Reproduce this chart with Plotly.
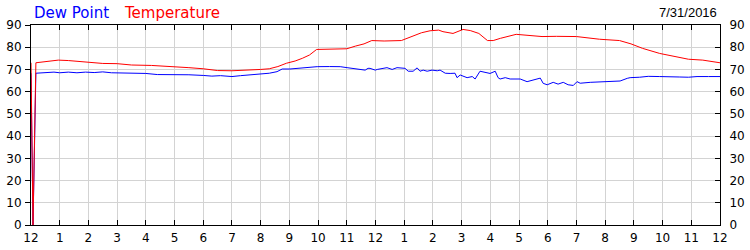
import plotly.graph_objects as go

# ---- data ----
temp_hours = [0.00, 0.07, 0.17, 0.5, 0.95, 1.3, 2.0, 2.5, 3.0, 3.5, 4.2, 5.0, 5.5, 6.0, 6.5, 7.0,
              7.6, 8.0, 8.3, 8.6, 8.9, 9.2, 9.45, 9.7, 9.95, 10.5, 11.0, 11.3, 11.6, 11.87, 12.3,
              12.9, 13.2, 13.4, 13.6, 13.9, 14.2, 14.35, 14.7, 15.05, 15.3, 15.6, 15.9, 16.1,
              16.35, 16.9, 17.4, 17.8, 18.3, 19.0, 19.8, 20.5, 20.9, 21.3, 21.9, 22.4, 22.9,
              23.4, 24.0]
temp_values = [73.0, 0.0, 73.0, 73.5, 74.2, 74.0, 73.2, 72.7, 72.6, 72.0, 71.8, 71.3, 70.8, 70.3,
               69.5, 69.4, 69.6, 70.0, 70.3, 71.3, 72.8, 73.8, 75.0, 76.5, 79.0, 79.0, 79.3,
               80.5, 81.5, 83.0, 82.8, 83.0, 84.5, 85.5, 86.5, 87.4, 87.7, 87.0, 86.2, 88.0,
               87.5, 86.2, 83.0, 83.0, 84.0, 85.8, 85.3, 84.8, 84.9, 84.8, 83.6, 83.0, 81.5,
               79.5, 77.2, 76.0, 74.6, 74.2, 73.0]

dew_hours = [0.00, 0.07, 0.17, 0.5, 0.8, 1.0, 1.3, 1.6, 1.9, 2.2, 2.5, 2.8, 3.2, 3.6, 4.0, 4.4,
             5.0, 5.5, 6.0, 6.3, 6.6, 7.0, 7.3, 7.63, 7.98, 8.3, 8.57, 8.75, 9.02, 9.30, 9.65,
             9.97, 10.4, 10.77, 11.01, 11.22, 11.45, 11.64, 11.74, 11.81, 11.99, 12.06, 12.40,
             12.58, 12.75, 13.03, 13.14, 13.31, 13.45, 13.55, 13.66, 13.80, 13.97, 14.15, 14.25,
             14.43, 14.60, 14.77, 14.84, 14.95, 15.19, 15.37, 15.47, 15.64, 15.99, 16.17, 16.27,
             16.34, 16.52, 16.69, 17.04, 17.28, 17.74, 17.84, 17.98, 18.19, 18.36, 18.54, 18.71,
             18.89, 19.02, 19.13, 19.48, 19.83, 20.28, 20.52, 20.77, 20.87, 21.2, 21.5, 21.9,
             22.3, 22.6, 22.9, 23.2, 23.6, 24.0]
dew_values = [68.3, 0.0, 68.3, 68.4, 68.8, 68.5, 68.8, 68.5, 68.8, 68.6, 68.9, 68.5, 68.5, 68.3,
              68.2, 67.7, 67.7, 67.6, 67.3, 67.0, 67.2, 66.8, 67.2, 67.5, 68.1, 68.3, 69.0, 70.2,
              70.2, 70.5, 70.8, 71.25, 71.3, 71.25, 70.8, 70.5, 70.2, 69.7, 70.5, 70.5, 69.7,
              70.0, 70.8, 70.0, 70.8, 70.5, 69.2, 69.2, 70.7, 69.2, 69.7, 69.2, 69.7, 69.4, 69.7,
              68.3, 68.2, 68.3, 66.3, 67.5, 66.3, 66.8, 65.7, 69.2, 68.2, 69.2, 66.3, 65.7, 66.3,
              65.7, 65.7, 64.5, 66.1, 63.75, 63.1, 64.2, 63.4, 64.2, 63.1, 62.8, 64.5, 63.8, 64.2,
              64.5, 64.8, 64.8, 66.0, 66.3, 66.5, 66.9, 66.8, 66.5, 66.6, 66.5, 66.8, 66.8, 66.8]

tick_hours = list(range(0, 25))
tick_labels = ["12"] + [str(i) for i in range(1, 12)] + ["12"] + [str(i) for i in range(1, 12)] + ["12"]
date_label = "7/31/2016"

TICKFONT = dict(family="DejaVu Sans", size=12, color="#000000")
GRID = "#d3d3d3"

fig = go.Figure()
fig.add_trace(go.Scatter(x=dew_hours, y=dew_values, mode="lines",
                         line=dict(color="#0000ff", width=1), name="Dew Point",
                         xaxis="x", yaxis="y"))
fig.add_trace(go.Scatter(x=temp_hours, y=temp_values, mode="lines",
                         line=dict(color="#ff0000", width=1), name="Temperature",
                         xaxis="x2", yaxis="y2"))

fig.update_layout(
    width=750, height=250,
    margin=dict(l=31, r=30, t=25, b=25, autoexpand=False),
    paper_bgcolor="white", plot_bgcolor="white",
    showlegend=False,
    xaxis=dict(range=[0, 24], tickvals=tick_hours, ticktext=tick_labels,
               ticks="inside", ticklen=5, tickcolor="black", tickwidth=1,
               showline=True, linecolor="black", linewidth=1,
               showgrid=True, gridcolor=GRID, gridwidth=1, zeroline=False,
               tickfont=TICKFONT, ticklabelstandoff=2, automargin=False),
    xaxis2=dict(range=[0, 24], tickvals=tick_hours, overlaying="x", side="top",
                anchor="y", ticks="inside", ticklen=5, tickcolor="black",
                showline=True, linecolor="black", linewidth=1,
                showgrid=False, zeroline=False, showticklabels=False, automargin=False),
    yaxis=dict(range=[0, 90], dtick=10, tick0=0, ticks="outside", ticklen=5,
               tickcolor="black", showline=True, linecolor="black", linewidth=1,
               showgrid=True, gridcolor=GRID, gridwidth=1, zeroline=False,
               tickfont=TICKFONT, ticklabelstandoff=1, automargin=False),
    yaxis2=dict(range=[0, 90], dtick=10, tick0=0, overlaying="y", side="right",
                anchor="x", ticks="inside", ticklen=5, tickcolor="black",
                showline=True, linecolor="black", linewidth=1,
                showgrid=False, zeroline=False, tickfont=TICKFONT,
                ticklabelstandoff=6, automargin=False),
)

pw = 750 - 31 - 30
ph = 250 - 25 - 25
def px_to_paper_x(px):
    return (px - 31) / pw
def px_to_paper_y(py):
    return (225 - py) / ph

fig.add_annotation(text="Dew Point", x=px_to_paper_x(32), y=px_to_paper_y(12.5),
                   xref="paper", yref="paper", xanchor="left", yanchor="middle",
                   showarrow=False, font=dict(family="DejaVu Sans", size=15, color="#0000ff"))
fig.add_annotation(text="Temperature", x=px_to_paper_x(122), y=px_to_paper_y(12.5),
                   xref="paper", yref="paper", xanchor="left", yanchor="middle",
                   showarrow=False, font=dict(family="DejaVu Sans", size=15, color="#ff0000"))
fig.add_annotation(text=date_label, x=px_to_paper_x(719), y=px_to_paper_y(12),
                   xref="paper", yref="paper", xanchor="right", yanchor="middle",
                   showarrow=False, font=dict(family="Liberation Sans", size=13, color="#000000"))

fig.write_html("out.html")
